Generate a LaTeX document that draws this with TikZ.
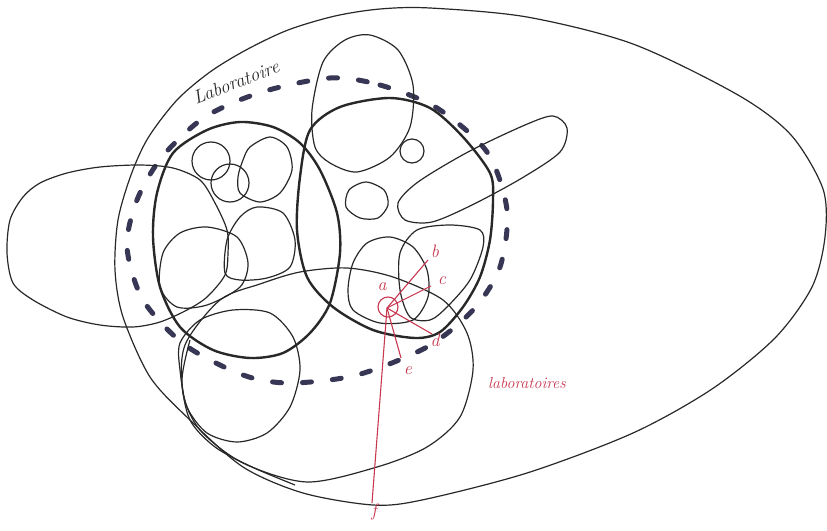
\documentclass[tikz,border=0pt]{standalone}
\usetikzlibrary{positioning}

\definecolor{ink}{RGB}{40,40,40}
\definecolor{dashink}{RGB}{55,55,85}
\definecolor{redink}{RGB}{200,55,80}

\tikzset{
  sketch/.style={draw=ink, line width=1.2pt, line join=round},
  bold/.style={sketch, line width=2.4pt},
  dashring/.style={draw=dashink, line width=5pt, line cap=round, dash pattern=on 9pt off 21pt},
  redline/.style={draw=redink, line width=1.1pt},
  redlabel/.style={text=redink, font=\itshape\fontsize{18}{18}\selectfont, inner sep=1pt}
}

\begin{document}
\begin{tikzpicture}[x=1pt,y=-1pt]
  \useasboundingbox (0,0) rectangle (827,530);

  % outer egg
  \draw[sketch] plot[smooth cycle] coordinates {(430,8) (527,17) (633,44) (738,95) (791,135)
    (823,189) (825,237) (812,287) (775,338) (712,389) (633,433) (527,473) (422,500) (373,505)
    (303,493) (243,467) (190,420) (150,377) (123,317) (115,270) (118,220) (131,175) (148,138)
    (177,100) (210,72) (246,50) (288,30) (335,16) (380,9)};

  % dashed ring
  \draw[dashring] plot[smooth cycle] coordinates {(330,78) (380,85) (437,108) (487,152) (507,210)
    (500,267) (473,310) (427,347) (357,375) (290,383) (243,375) (185,345) (143,300) (127,247)
    (137,200) (162,157) (205,117) (262,92)};
  \node[rotate=21, font=\itshape\fontsize{19}{19}\selectfont, text=ink] (labo) at (236,82) {Laboratoire};

  % left loop
  \draw[sketch] plot[smooth cycle] coordinates {(7,253) (10,220) (23,197) (40,183) (67,173)
    (100,167) (140,165) (173,168) (200,180) (215,203) (227,230) (228,253) (225,275) (207,297)
    (187,310) (160,322) (133,327) (100,325) (67,317) (33,300) (13,283)};

  % top tall ellipse
  \draw[sketch] plot[smooth cycle] coordinates {(370,35) (398,50) (413,85) (410,127) (390,157)
    (357,172) (330,163) (315,147) (312,110) (323,62) (345,40)};

  % long ellipse on the right
  \draw[sketch] plot[smooth cycle] coordinates {(398,203) (418,182) (468,152) (525,125) (553,116)
    (567,128) (560,152) (522,178) (472,205) (432,222) (405,220)};

  % bottom ellipse
  \draw[sketch] plot[smooth cycle] coordinates {(185,345) (220,300) (260,284) (300,272) (347,268)
    (393,277) (443,300) (467,333) (473,370) (460,417) (427,447) (377,467) (307,482) (243,463)
    (200,430) (183,393)};
  \draw[sketch] plot[smooth] coordinates {(190,340) (182,380) (190,420) (215,447) (252,467) (295,485)};

  % left group
  \draw[bold] plot[smooth cycle] coordinates {(173,153) (207,130) (240,122) (273,127) (300,143)
    (320,170) (337,213) (340,253) (330,303) (310,333) (283,353) (250,358) (213,350) (180,327)
    (160,287) (153,237) (157,193)};
  \draw[sketch] (211,161) circle (19);
  \draw[sketch] (230,183) circle (19);
  \draw[sketch] plot[smooth cycle] coordinates {(250,147) (270,137) (287,147) (292,170) (280,193)
    (260,202) (240,193) (238,177) (243,160)};
  \draw[sketch] plot[smooth cycle] coordinates {(257,207) (283,213) (295,240) (290,267) (267,278)
    (240,280) (225,273) (227,240) (240,217)};
  \draw[sketch] plot[smooth cycle] coordinates {(207,227) (237,237) (248,263) (240,287) (207,305)
    (177,307) (160,287) (163,253) (180,233)};
  \draw[sketch] plot[smooth cycle] coordinates {(180,343) (200,320) (233,310) (270,313) (293,337)
    (300,370) (290,407) (267,433) (237,442) (207,433) (187,407) (180,370)};

  % right group
  \draw[bold] plot[smooth cycle] coordinates {(310,130) (340,107) (390,98) (430,108) (463,137)
    (490,173) (493,200) (490,240) (480,277) (463,307) (440,332) (415,338) (373,330) (333,307)
    (307,277) (297,230) (300,177)};
  \draw[sketch] (412,151) circle (12);
  \draw[sketch] plot[smooth cycle] coordinates {(366,182) (384,190) (388,205) (378,218) (360,218)
    (346,207) (349,190)};
  \draw[sketch] plot[smooth cycle] coordinates {(390,237) (413,247) (427,270) (428,297) (413,320)
    (380,323) (353,310) (348,290) (353,263) (367,243)};
  \draw[sketch] plot[smooth cycle] coordinates {(400,253) (417,230) (450,225) (480,230) (483,247)
    (470,280) (447,307) (430,320) (410,317) (400,290)};

  % red annotations
  \draw[redline] (388,307) circle (10);
  \coordinate (a) at (387,308);
  \node[redlabel] (la) at (382,287) {a};
  \node[redlabel] (lb) at (435,251) {b};
  \node[redlabel] (lc) at (442,281) {c};
  \node[redlabel] (ld) at (435,340) {d};
  \node[redlabel] (le) at (408,371) {e};
  \node[redlabel] (lf) at (374,512) {f};
  \coordinate (eb) at (428,260);
  \coordinate (ec) at (431,286);
  \coordinate (ed) at (432,334);
  \coordinate (ee) at (401,358);
  \coordinate (ef) at (372,503);
  \draw[redline] (a) -- (eb);
  \draw[redline] (a) -- (ec);
  \draw[redline] (a) -- (ed);
  \draw[redline] (a) -- (ee);
  \draw[redline] (a) -- (ef);
  \node[redlabel, font=\itshape\fontsize{16}{16}\selectfont] (labos) at (527,383) {laboratoires};
\end{tikzpicture}
\end{document}
